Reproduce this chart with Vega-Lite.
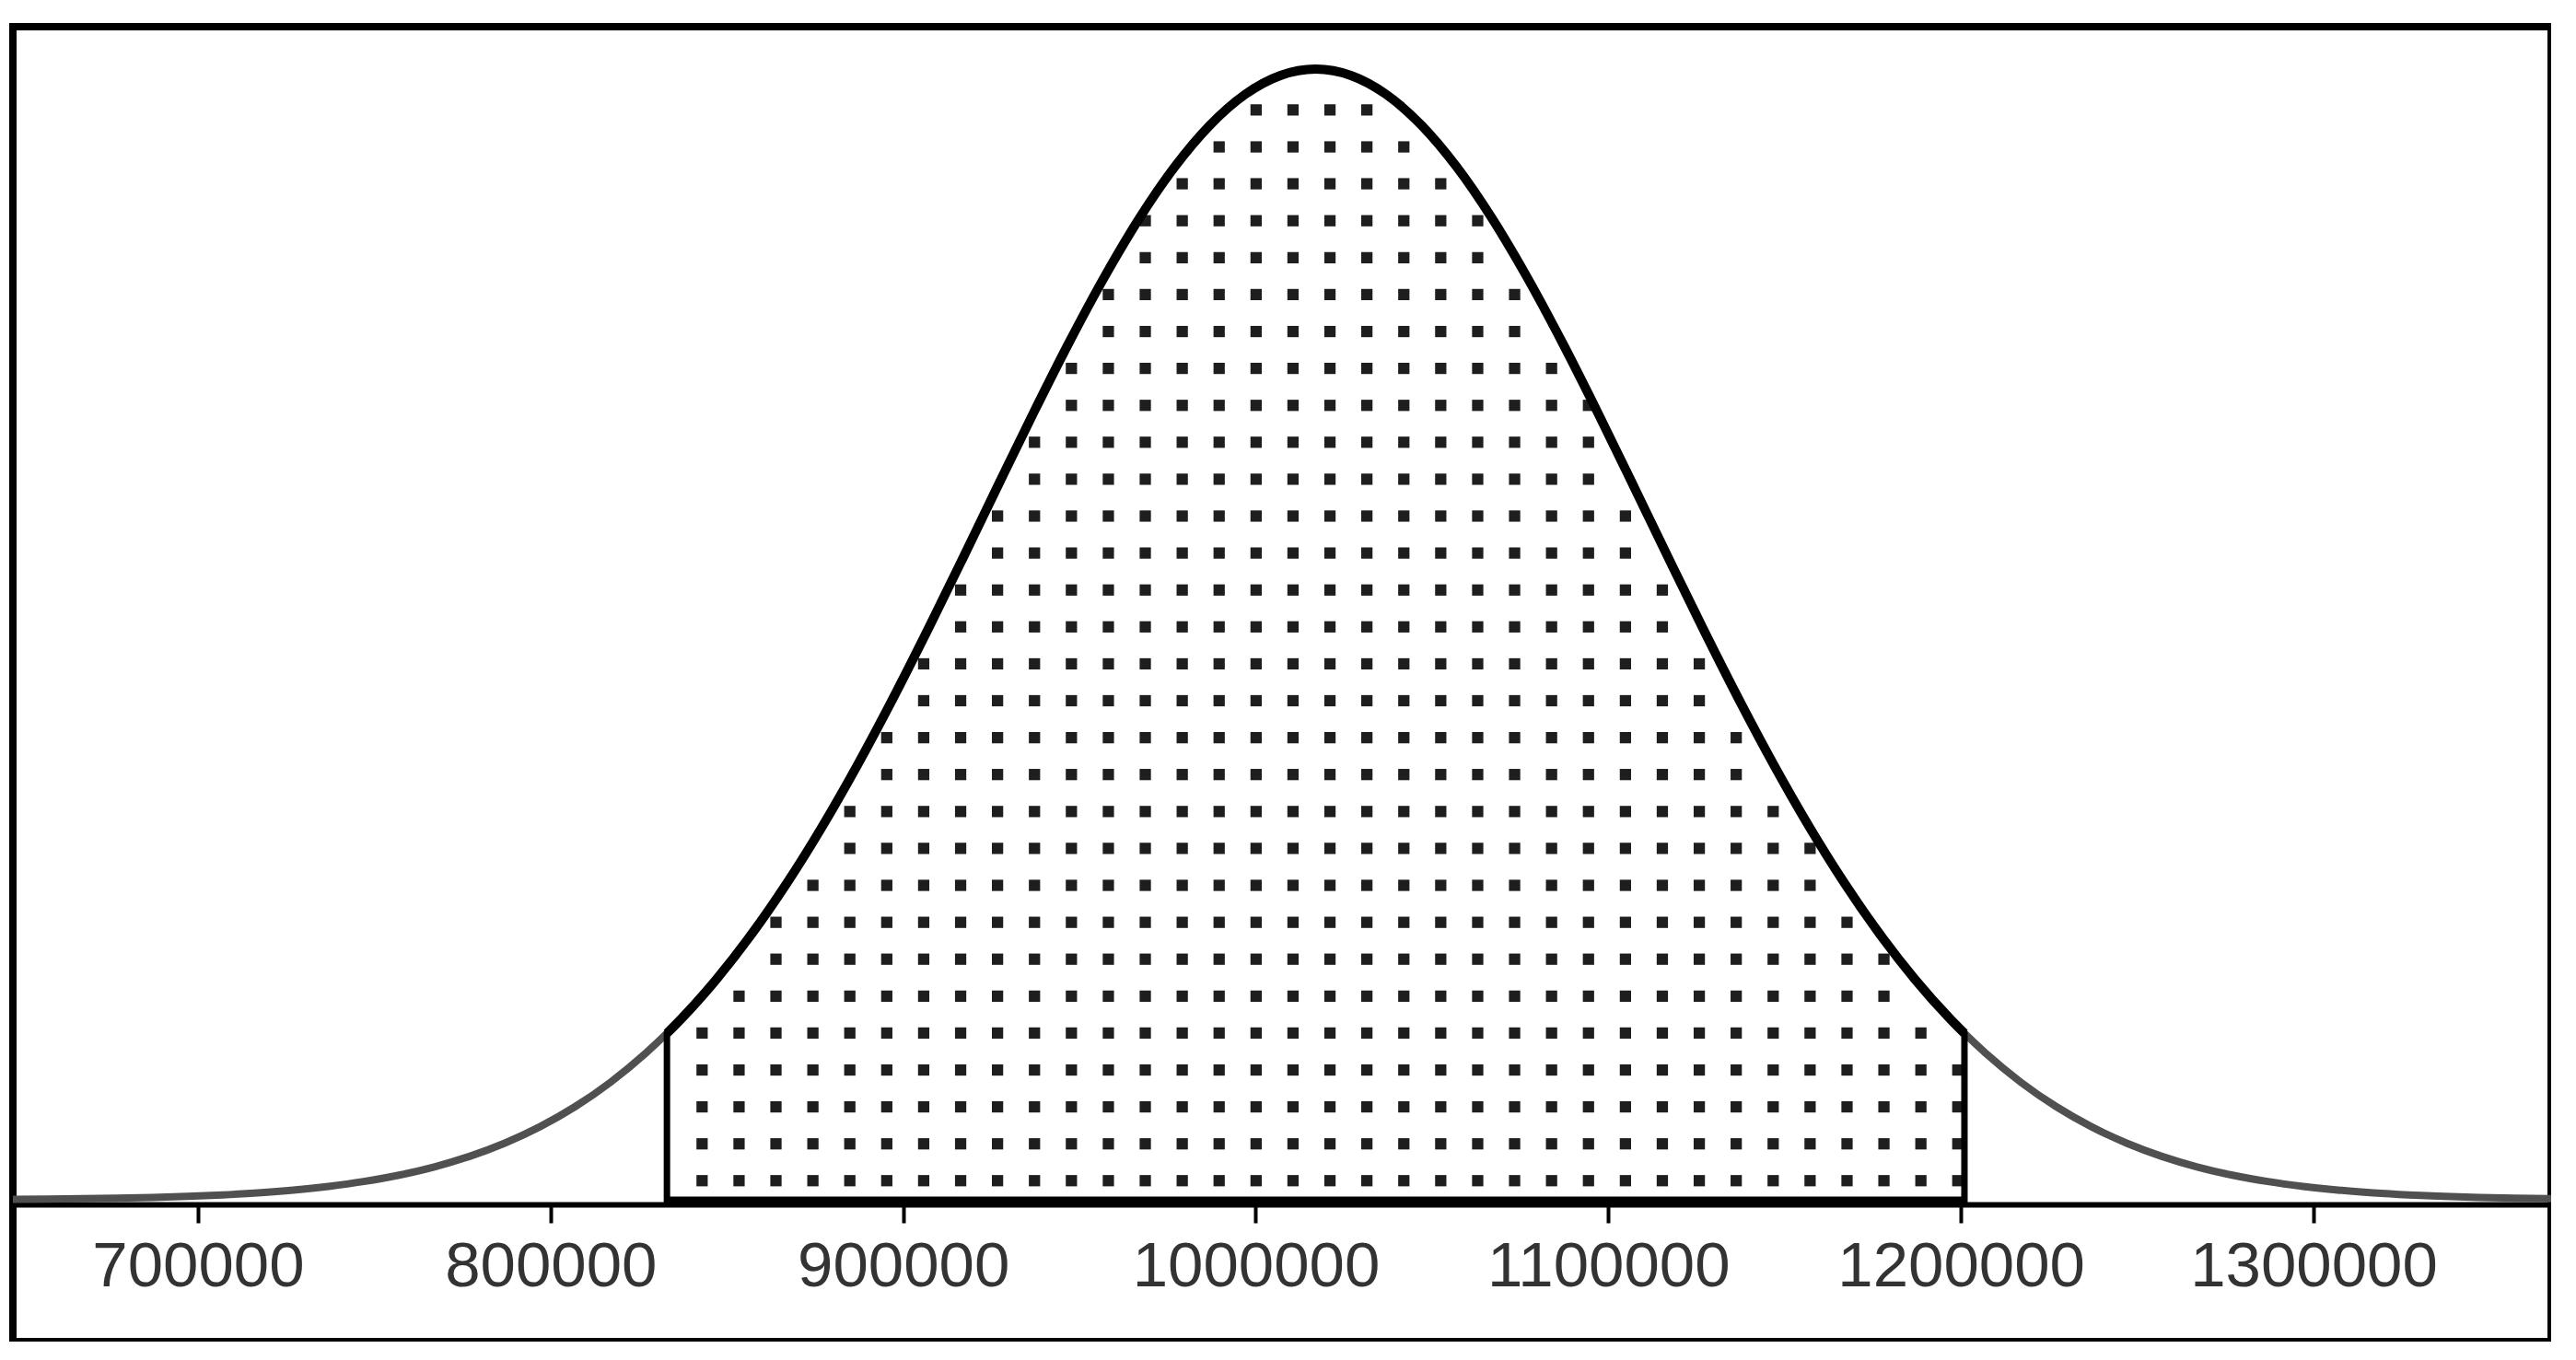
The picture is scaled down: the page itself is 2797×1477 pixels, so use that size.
{
  "$schema": "https://vega.github.io/schema/vega-lite/v6.json",
  "width": 2756,
  "height": 1428,
  "autosize": "none",
  "padding": {"left": 14, "top": 29, "right": 0, "bottom": 0},
  "background": "white",
  "config": {"view": {"stroke": "black", "strokeWidth": 8}},
  "datasets": {
    "curve": [
      {"x": 637000, "y": 0.00028}, {"x": 647000, "y": 0.00043}, {"x": 657000, "y": 0.00065}, {"x": 667000, "y": 0.00098},
      {"x": 677000, "y": 0.00144}, {"x": 687000, "y": 0.00211}, {"x": 697000, "y": 0.00304}, {"x": 707000, "y": 0.00435},
      {"x": 717000, "y": 0.00614}, {"x": 727000, "y": 0.00857}, {"x": 737000, "y": 0.01184}, {"x": 747000, "y": 0.01616},
      {"x": 757000, "y": 0.02181}, {"x": 767000, "y": 0.02911}, {"x": 777000, "y": 0.03841}, {"x": 787000, "y": 0.05011},
      {"x": 797000, "y": 0.06465}, {"x": 807000, "y": 0.08246}, {"x": 817000, "y": 0.10399}, {"x": 827000, "y": 0.12967},
      {"x": 833000, "y": 0.14723},
      {"x": 837000, "y": 0.15987}, {"x": 847000, "y": 0.19488}, {"x": 857000, "y": 0.23489}, {"x": 867000, "y": 0.27993},
      {"x": 877000, "y": 0.32985}, {"x": 887000, "y": 0.38431}, {"x": 897000, "y": 0.44271}, {"x": 907000, "y": 0.50425},
      {"x": 917000, "y": 0.56787}, {"x": 927000, "y": 0.63233}, {"x": 937000, "y": 0.69617}, {"x": 947000, "y": 0.75786},
      {"x": 957000, "y": 0.8157}, {"x": 967000, "y": 0.86808}, {"x": 977000, "y": 0.91344}, {"x": 987000, "y": 0.95035},
      {"x": 997000, "y": 0.97762}, {"x": 1007000, "y": 0.99436}, {"x": 1017000, "y": 1.0}, {"x": 1027000, "y": 0.99436},
      {"x": 1037000, "y": 0.97762}, {"x": 1047000, "y": 0.95035}, {"x": 1057000, "y": 0.91344}, {"x": 1067000, "y": 0.86808},
      {"x": 1077000, "y": 0.8157}, {"x": 1087000, "y": 0.75786}, {"x": 1097000, "y": 0.69617}, {"x": 1107000, "y": 0.63233},
      {"x": 1117000, "y": 0.56787}, {"x": 1127000, "y": 0.50425}, {"x": 1137000, "y": 0.44271}, {"x": 1147000, "y": 0.38431},
      {"x": 1157000, "y": 0.32985}, {"x": 1167000, "y": 0.27993}, {"x": 1177000, "y": 0.23489}, {"x": 1187000, "y": 0.19488},
      {"x": 1197000, "y": 0.15987},
      {"x": 1201000, "y": 0.14723},
      {"x": 1207000, "y": 0.12967}, {"x": 1217000, "y": 0.10399}, {"x": 1227000, "y": 0.08246}, {"x": 1237000, "y": 0.06465},
      {"x": 1247000, "y": 0.05011}, {"x": 1257000, "y": 0.03841}, {"x": 1267000, "y": 0.02911}, {"x": 1277000, "y": 0.02181},
      {"x": 1287000, "y": 0.01616}, {"x": 1297000, "y": 0.01184}, {"x": 1307000, "y": 0.00857}, {"x": 1317000, "y": 0.00614},
      {"x": 1327000, "y": 0.00435}, {"x": 1337000, "y": 0.00304}, {"x": 1347000, "y": 0.00211}, {"x": 1357000, "y": 0.00144},
      {"x": 1367000, "y": 0.00098}, {"x": 1377000, "y": 0.00065}
    ],
    "dots": [
      {"x": 842970, "ys": [0.0169,0.0495,0.0822,0.1148,0.1475]},
      {"x": 853450, "ys": [0.0169,0.0495,0.0822,0.1148,0.1475,0.1801]},
      {"x": 863920, "ys": [0.0169,0.0495,0.0822,0.1148,0.1475,0.1801,0.2128,0.2454]},
      {"x": 874400, "ys": [0.0169,0.0495,0.0822,0.1148,0.1475,0.1801,0.2128,0.2454,0.2781]},
      {"x": 884870, "ys": [0.0169,0.0495,0.0822,0.1148,0.1475,0.1801,0.2128,0.2454,0.2781,0.3108,0.3434]},
      {"x": 895350, "ys": [0.0169,0.0495,0.0822,0.1148,0.1475,0.1801,0.2128,0.2454,0.2781,0.3108,0.3434,0.3761,0.4087]},
      {"x": 905820, "ys": [0.0169,0.0495,0.0822,0.1148,0.1475,0.1801,0.2128,0.2454,0.2781,0.3108,0.3434,0.3761,0.4087,0.4414,0.474]},
      {"x": 916300, "ys": [0.0169,0.0495,0.0822,0.1148,0.1475,0.1801,0.2128,0.2454,0.2781,0.3108,0.3434,0.3761,0.4087,0.4414,0.474,0.5067,0.5393]},
      {"x": 926770, "ys": [0.0169,0.0495,0.0822,0.1148,0.1475,0.1801,0.2128,0.2454,0.2781,0.3108,0.3434,0.3761,0.4087,0.4414,0.474,0.5067,0.5393,0.572,0.6047]},
      {"x": 937250, "ys": [0.0169,0.0495,0.0822,0.1148,0.1475,0.1801,0.2128,0.2454,0.2781,0.3108,0.3434,0.3761,0.4087,0.4414,0.474,0.5067,0.5393,0.572,0.6047,0.6373,0.67]},
      {"x": 947720, "ys": [0.0169,0.0495,0.0822,0.1148,0.1475,0.1801,0.2128,0.2454,0.2781,0.3108,0.3434,0.3761,0.4087,0.4414,0.474,0.5067,0.5393,0.572,0.6047,0.6373,0.67,0.7026,0.7353]},
      {"x": 958200, "ys": [0.0169,0.0495,0.0822,0.1148,0.1475,0.1801,0.2128,0.2454,0.2781,0.3108,0.3434,0.3761,0.4087,0.4414,0.474,0.5067,0.5393,0.572,0.6047,0.6373,0.67,0.7026,0.7353,0.7679,0.8006]},
      {"x": 968670, "ys": [0.0169,0.0495,0.0822,0.1148,0.1475,0.1801,0.2128,0.2454,0.2781,0.3108,0.3434,0.3761,0.4087,0.4414,0.474,0.5067,0.5393,0.572,0.6047,0.6373,0.67,0.7026,0.7353,0.7679,0.8006,0.8332,0.8659]},
      {"x": 979150, "ys": [0.0169,0.0495,0.0822,0.1148,0.1475,0.1801,0.2128,0.2454,0.2781,0.3108,0.3434,0.3761,0.4087,0.4414,0.474,0.5067,0.5393,0.572,0.6047,0.6373,0.67,0.7026,0.7353,0.7679,0.8006,0.8332,0.8659,0.8986]},
      {"x": 989620, "ys": [0.0169,0.0495,0.0822,0.1148,0.1475,0.1801,0.2128,0.2454,0.2781,0.3108,0.3434,0.3761,0.4087,0.4414,0.474,0.5067,0.5393,0.572,0.6047,0.6373,0.67,0.7026,0.7353,0.7679,0.8006,0.8332,0.8659,0.8986,0.9312]},
      {"x": 1000100, "ys": [0.0169,0.0495,0.0822,0.1148,0.1475,0.1801,0.2128,0.2454,0.2781,0.3108,0.3434,0.3761,0.4087,0.4414,0.474,0.5067,0.5393,0.572,0.6047,0.6373,0.67,0.7026,0.7353,0.7679,0.8006,0.8332,0.8659,0.8986,0.9312,0.9639]},
      {"x": 1010570, "ys": [0.0169,0.0495,0.0822,0.1148,0.1475,0.1801,0.2128,0.2454,0.2781,0.3108,0.3434,0.3761,0.4087,0.4414,0.474,0.5067,0.5393,0.572,0.6047,0.6373,0.67,0.7026,0.7353,0.7679,0.8006,0.8332,0.8659,0.8986,0.9312,0.9639]},
      {"x": 1021050, "ys": [0.0169,0.0495,0.0822,0.1148,0.1475,0.1801,0.2128,0.2454,0.2781,0.3108,0.3434,0.3761,0.4087,0.4414,0.474,0.5067,0.5393,0.572,0.6047,0.6373,0.67,0.7026,0.7353,0.7679,0.8006,0.8332,0.8659,0.8986,0.9312,0.9639]},
      {"x": 1031520, "ys": [0.0169,0.0495,0.0822,0.1148,0.1475,0.1801,0.2128,0.2454,0.2781,0.3108,0.3434,0.3761,0.4087,0.4414,0.474,0.5067,0.5393,0.572,0.6047,0.6373,0.67,0.7026,0.7353,0.7679,0.8006,0.8332,0.8659,0.8986,0.9312,0.9639]},
      {"x": 1042000, "ys": [0.0169,0.0495,0.0822,0.1148,0.1475,0.1801,0.2128,0.2454,0.2781,0.3108,0.3434,0.3761,0.4087,0.4414,0.474,0.5067,0.5393,0.572,0.6047,0.6373,0.67,0.7026,0.7353,0.7679,0.8006,0.8332,0.8659,0.8986,0.9312]},
      {"x": 1052470, "ys": [0.0169,0.0495,0.0822,0.1148,0.1475,0.1801,0.2128,0.2454,0.2781,0.3108,0.3434,0.3761,0.4087,0.4414,0.474,0.5067,0.5393,0.572,0.6047,0.6373,0.67,0.7026,0.7353,0.7679,0.8006,0.8332,0.8659,0.8986]},
      {"x": 1062950, "ys": [0.0169,0.0495,0.0822,0.1148,0.1475,0.1801,0.2128,0.2454,0.2781,0.3108,0.3434,0.3761,0.4087,0.4414,0.474,0.5067,0.5393,0.572,0.6047,0.6373,0.67,0.7026,0.7353,0.7679,0.8006,0.8332,0.8659]},
      {"x": 1073420, "ys": [0.0169,0.0495,0.0822,0.1148,0.1475,0.1801,0.2128,0.2454,0.2781,0.3108,0.3434,0.3761,0.4087,0.4414,0.474,0.5067,0.5393,0.572,0.6047,0.6373,0.67,0.7026,0.7353,0.7679,0.8006]},
      {"x": 1083900, "ys": [0.0169,0.0495,0.0822,0.1148,0.1475,0.1801,0.2128,0.2454,0.2781,0.3108,0.3434,0.3761,0.4087,0.4414,0.474,0.5067,0.5393,0.572,0.6047,0.6373,0.67,0.7026,0.7353]},
      {"x": 1094370, "ys": [0.0169,0.0495,0.0822,0.1148,0.1475,0.1801,0.2128,0.2454,0.2781,0.3108,0.3434,0.3761,0.4087,0.4414,0.474,0.5067,0.5393,0.572,0.6047,0.6373,0.67,0.7026]},
      {"x": 1104850, "ys": [0.0169,0.0495,0.0822,0.1148,0.1475,0.1801,0.2128,0.2454,0.2781,0.3108,0.3434,0.3761,0.4087,0.4414,0.474,0.5067,0.5393,0.572,0.6047]},
      {"x": 1115320, "ys": [0.0169,0.0495,0.0822,0.1148,0.1475,0.1801,0.2128,0.2454,0.2781,0.3108,0.3434,0.3761,0.4087,0.4414,0.474,0.5067,0.5393]},
      {"x": 1125800, "ys": [0.0169,0.0495,0.0822,0.1148,0.1475,0.1801,0.2128,0.2454,0.2781,0.3108,0.3434,0.3761,0.4087,0.4414,0.474]},
      {"x": 1136270, "ys": [0.0169,0.0495,0.0822,0.1148,0.1475,0.1801,0.2128,0.2454,0.2781,0.3108,0.3434,0.3761,0.4087]},
      {"x": 1146750, "ys": [0.0169,0.0495,0.0822,0.1148,0.1475,0.1801,0.2128,0.2454,0.2781,0.3108,0.3434]},
      {"x": 1157220, "ys": [0.0169,0.0495,0.0822,0.1148,0.1475,0.1801,0.2128,0.2454,0.2781,0.3108]},
      {"x": 1167700, "ys": [0.0169,0.0495,0.0822,0.1148,0.1475,0.1801,0.2128,0.2454]},
      {"x": 1178170, "ys": [0.0169,0.0495,0.0822,0.1148,0.1475,0.1801,0.2128]},
      {"x": 1188650, "ys": [0.0169,0.0495,0.0822,0.1148,0.1475]},
      {"x": 1199120, "ys": [0.0169,0.0495,0.0822,0.1148]}
    ]
  },
  "encoding": {
    "x": {
      "field": "x", "type": "quantitative",
      "scale": {"domain": [647500, 1367400], "nice": false, "zero": false},
      "axis": {
        "orient": "bottom", "offset": -149, "title": null, "grid": false,
        "values": [700000, 800000, 900000, 1000000, 1100000, 1200000, 1300000],
        "format": "d",
        "domainColor": "black", "domainWidth": 6,
        "tickColor": "black", "tickWidth": 4, "tickSize": 20,
        "labelFont": "Liberation Sans", "labelFontSize": 69, "labelColor": "#333333", "labelPadding": 13,
        "labelLimit": 0, "labelFlush": false, "labelOverlap": false
      }
    },
    "y": {
      "field": "y", "type": "quantitative",
      "scale": {"domain": [-0.1254, 1.0375], "nice": false, "zero": false},
      "axis": null
    }
  },
  "layer": [
    {
      "data": {"name": "curve"},
      "mark": {"type": "line", "color": "#505050", "strokeWidth": 8, "interpolate": "monotone", "clip": true}
    },
    {
      "data": {"name": "dots"},
      "transform": [{"flatten": ["ys"], "as": ["y"]}],
      "mark": {"type": "square", "size": 150, "color": "#1e1e1e", "opacity": 1, "filled": true}
    },
    {
      "data": {"name": "curve"},
      "transform": [{"filter": "datum.x >= 833000 && datum.x <= 1201000"}],
      "mark": {"type": "area", "interpolate": "monotone", "fill": "white", "fillOpacity": 0, "stroke": "black", "strokeWidth": 7},
      "encoding": {"y2": {"datum": 0}}
    },
    {
      "data": {"name": "curve"},
      "transform": [{"filter": "datum.x >= 833000 && datum.x <= 1201000"}],
      "mark": {"type": "line", "color": "black", "strokeWidth": 10, "interpolate": "monotone", "strokeCap": "butt"}
    }
  ]
}
